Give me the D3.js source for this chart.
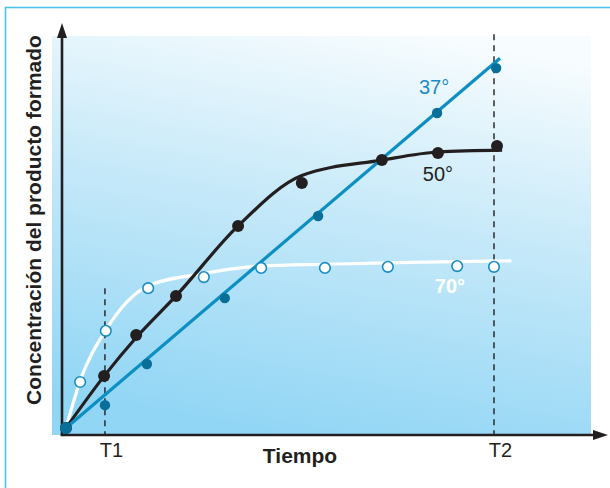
<!DOCTYPE html>
<html lang="es">
<head>
<meta charset="utf-8">
<title>Concentración del producto formado vs. tiempo</title>
<script src="https://cdn.jsdelivr.net/npm/d3@7"></script>
<style>
  html, body { margin: 0; padding: 0; background: #ffffff; }
  svg { display: block; font-family: "Liberation Sans", Arial, Helvetica, sans-serif; }
</style>
</head>
<body>
<svg id="chart" width="610" height="488"></svg>
<script>
// ---- data (time and concentration in arbitrary units) ----
const timeMarks = [9.1, 100];
const timeLabels = ["T1", "T2"];

// 37 °C: measured points and fitted straight line
const points37 = [[0, 0], [9.1, 6.2], [18.9, 17.4], [37.1, 35.3], [58.9, 57.6], [86.7, 85.6], [100.5, 97.8]];
const line37 = [[0, 0], [101.4, 100.5]];

// 50 °C
const points50 = [[0, 0], [8.9, 14.1], [16.4, 25.3], [25.7, 35.9], [40.2, 54.9], [55.1, 66.6], [73.8, 72.8], [86.9, 74.7], [100.7, 76.6]];
const line50 = [[0, 0], [8.9, 14.1], [16.4, 24.6], [25.7, 35.9], [40.2, 54.9], [55.1, 68.6], [73.8, 72.8], [86.9, 75.0], [101.9, 75.5]];

// 70 °C
const points70 = [[3.3, 12.5], [9.3, 26.4], [19.2, 38.0], [32.2, 41.0], [45.6, 43.5], [60.5, 43.5], [75.2, 43.8], [91.4, 44.0], [100, 43.8]];
const line70 = [[0, 0], [3.3, 12.8], [9.3, 26.6], [19.2, 38.6], [32.2, 42.0], [45.6, 44.0], [60.5, 44.5], [80, 45.0], [104.1, 45.4]];

const seriesLabels = [
  { text: "37°", at: [86.0, 90.8], color: "#1a8cc8", weight: "normal" },
  { text: "50°", at: [86.9, 67.0], color: "#231f20", weight: "normal" },
  { text: "70°", at: [89.7, 36.7], color: "#ffffff", weight: "bold" }
];

// ---- layout ----
const svg = d3.select("#chart");
const plot = { left: 52, right: 591, top: 36, bottom: 435 };
const axisX = 62, axisY = 435;

const x = d3.scaleLinear().domain([0, 100]).range([66, 494]);
const y = d3.scaleLinear().domain([0, 100]).range([428, 60]);

// outer frame (top and left edges visible)
svg.append("rect")
  .attr("x", 5.5).attr("y", 7.5).attr("width", 700).attr("height", 600)
  .attr("fill", "none").attr("stroke", "#4cc2ec").attr("stroke-width", 1.6);

// background gradient
const defs = svg.append("defs");
const grad = defs.append("linearGradient").attr("id", "bg")
  .attr("x1", "70%").attr("y1", "0%").attr("x2", "45%").attr("y2", "100%");
grad.append("stop").attr("offset", "0%").attr("stop-color", "#f7fcfe");
grad.append("stop").attr("offset", "45%").attr("stop-color", "#c6e9f9");
grad.append("stop").attr("offset", "100%").attr("stop-color", "#92d6f5");

svg.append("rect")
  .attr("x", plot.left).attr("y", plot.top)
  .attr("width", plot.right - plot.left).attr("height", plot.bottom - plot.top)
  .attr("fill", "url(#bg)");

// dashed guides at T1 and T2
const guideTops = [38, 107];
svg.append("g").selectAll("line").data(timeMarks).join("line")
  .attr("x1", d => x(d)).attr("x2", d => x(d))
  .attr("y1", (d, i) => y(guideTops[i])).attr("y2", axisY)
  .attr("stroke", "#231f20").attr("stroke-width", 1.4)
  .attr("stroke-dasharray", "6,5");

// curves
const smooth = d3.line().x(d => x(d[0])).y(d => y(d[1])).curve(d3.curveMonotoneX);
const straight = d3.line().x(d => x(d[0])).y(d => y(d[1]));

svg.append("path").attr("d", smooth(line70))
  .attr("fill", "none").attr("stroke", "#ffffff").attr("stroke-width", 3.2);
svg.append("path").attr("d", smooth(line50))
  .attr("fill", "none").attr("stroke", "#231f20").attr("stroke-width", 3.2)
  .attr("stroke-linejoin", "round");
svg.append("path").attr("d", straight(line37))
  .attr("fill", "none").attr("stroke", "#0d8fc3").attr("stroke-width", 3.2);

// axes with arrowheads
svg.append("line")
  .attr("x1", axisX).attr("x2", axisX).attr("y1", axisY + 1).attr("y2", 36)
  .attr("stroke", "#231f20").attr("stroke-width", 2.6);
svg.append("path").attr("d", `M${axisX},23 L${axisX - 5},38 L${axisX + 5},38 Z`).attr("fill", "#231f20");
svg.append("line")
  .attr("x1", axisX - 1.3).attr("x2", 594).attr("y1", axisY).attr("y2", axisY)
  .attr("stroke", "#231f20").attr("stroke-width", 2.6);
svg.append("path").attr("d", `M608,${axisY} L593,${axisY - 5} L593,${axisY + 5} Z`).attr("fill", "#231f20");

// time tick labels
const xAxis = d3.axisBottom(x).tickValues(timeMarks)
  .tickFormat((d, i) => timeLabels[i]).tickSize(0).tickPadding(0);
const gx = svg.append("g").attr("transform", `translate(0,${axisY})`).call(xAxis);
gx.select(".domain").remove();
gx.selectAll("text")
  .attr("dy", null).attr("y", 22).attr("dx", 6)
  .attr("font-size", 20).attr("fill", "#231f20")
  .attr("font-family", "'Liberation Sans', Arial, sans-serif");

// axis titles
svg.append("text")
  .attr("x", 300).attr("y", 463).attr("text-anchor", "middle")
  .attr("font-size", 21).attr("font-weight", "bold").attr("fill", "#231f20")
  .text("Tiempo");
svg.append("text")
  .attr("transform", "translate(41,220) rotate(-90)")
  .attr("text-anchor", "middle")
  .attr("font-size", 21).attr("font-weight", "bold").attr("fill", "#231f20")
  .text("Concentración del producto formado");

// data points
svg.append("g").selectAll("circle").data(points50).join("circle")
  .attr("cx", d => x(d[0])).attr("cy", d => y(d[1])).attr("r", 6)
  .attr("fill", "#231f20");
svg.append("g").selectAll("circle").data(points37).join("circle")
  .attr("cx", d => x(d[0])).attr("cy", d => y(d[1])).attr("r", (d, i) => i === 0 ? 6 : 5.2)
  .attr("fill", "#0a6f98");
svg.append("g").selectAll("circle").data(points70).join("circle")
  .attr("cx", d => x(d[0])).attr("cy", d => y(d[1])).attr("r", 5.3)
  .attr("fill", "#ffffff").attr("stroke", "#1a8cc4").attr("stroke-width", 1.6);

// series labels
svg.append("g").selectAll("text").data(seriesLabels).join("text")
  .attr("x", d => x(d.at[0])).attr("y", d => y(d.at[1]))
  .attr("text-anchor", "middle")
  .attr("font-size", 20).attr("font-weight", d => d.weight)
  .attr("fill", d => d.color)
  .text(d => d.text);
</script>
</body>
</html>
